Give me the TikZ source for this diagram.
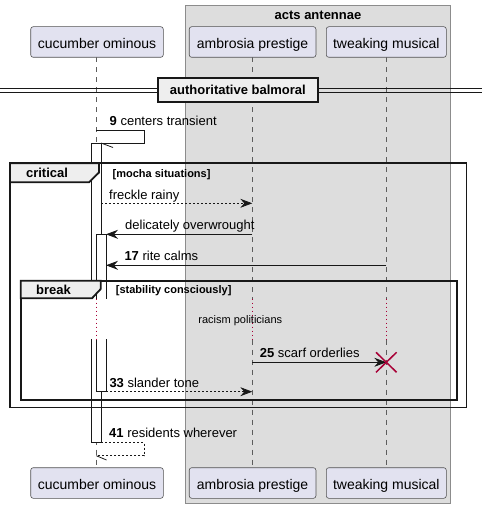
\documentclass[tikz,border=0pt]{standalone}
\usepackage{fontspec}
\setmainfont{Liberation Sans}
\usetikzlibrary{arrows.meta}
\definecolor{partfill}{HTML}{E2E2F0}
\definecolor{grpfill}{HTML}{DDDDDD}
\definecolor{grpline}{HTML}{8C8C8C}
\definecolor{tabfill}{HTML}{EEEEEE}
\definecolor{crim}{HTML}{A80036}
\definecolor{ink}{HTML}{181818}
\begin{document}
\begin{tikzpicture}[x=1pt,y=-1pt,
  part/.style={draw=ink!75, line width=0.6pt, fill=partfill, rounded corners=2.5pt,
    minimum height=30.6pt, inner sep=0, text height=12.5pt, text depth=0pt,
    font=\fontsize{14}{16}\selectfont},
  life/.style={draw=ink!70, line width=0.6pt, dash pattern=on 5pt off 5pt},
  msg/.style={draw=ink, line width=0.8pt, -{Stealth[length=12pt,width=9pt,inset=4pt]}},
  ret/.style={msg, dash pattern=on 2pt off 2pt},
  lbl/.style={anchor=base west, inner sep=0, font=\fontsize{13}{15}\selectfont},
  act/.style={draw=ink, line width=0.8pt, fill=white},
  frm/.style={draw=ink, line width=1.8pt},
  tabbox/.style={draw=ink, line width=1.8pt, fill=tabfill},
  delayline/.style={draw=crim, line width=1pt, dash pattern=on 1.2pt off 2.8pt},
  btitle/.style={inner sep=0, font=\bfseries\fontsize{13}{15}\selectfont},
  guard/.style={anchor=base west, inner sep=0, font=\bfseries\fontsize{11}{13}\selectfont}]
\useasboundingbox (0,0) rectangle (482,508);
% group box
\draw[grpline, line width=0.8pt, fill=grpfill] (185.3,5) rectangle (450.7,503.5);
\node[btitle, anchor=base] (gtitle) at (318,19.5) {acts antennae};
% lifelines
\coordinate (cT) at (96.3,57.3);   \coordinate (cB) at (96.3,467.7);
\coordinate (aT) at (252.3,57.3);  \coordinate (aB) at (252.3,467.7);
\coordinate (tT) at (386.3,57.3);  \coordinate (tB) at (386.3,467.7);
\coordinate (c1) at (96.3,298.5);  \coordinate (c2) at (96.3,339.5);
\coordinate (a1) at (252.3,298.5); \coordinate (a2) at (252.3,339.5);
\coordinate (t1) at (386.3,298.5); \coordinate (t2) at (386.3,339.5);
\draw[life] (cT) -- (c1); \draw[life] (c2) -- (cB);
\draw[life] (aT) -- (a1); \draw[life] (a2) -- (aB);
\draw[life] (tT) -- (t1); \draw[life] (t2) -- (tB);
% participants
\node[part, minimum width=132.6pt] (cuTop) at (97,42) {cucumber ominous};
\node[part, minimum width=126.7pt] (amTop) at (252.6,42) {ambrosia prestige};
\node[part, minimum width=120pt] (twTop) at (386.3,42) {tweaking musical};
\node[part, minimum width=132.6pt] (cuBot) at (97,483) {cucumber ominous};
\node[part, minimum width=126.7pt] (amBot) at (252.6,483) {ambrosia prestige};
\node[part, minimum width=120pt] (twBot) at (386.3,483) {tweaking musical};
% divider
\draw[ink, line width=0.9pt] (0,88.5) -- (482,88.5);
\draw[ink, line width=0.9pt] (0,92.5) -- (482,92.5);
\node[draw=ink, line width=2pt, fill=tabfill, minimum width=159.7pt, minimum height=23.7pt,
  inner sep=0, font=\bfseries\fontsize{13}{15}\selectfont] (divider) at (237.9,89.9) {authoritative balmoral};
% activations
\draw[act] (91.5,143.5) rectangle (101,442.7);
\draw[act] (96.3,234.3) rectangle (106,391.7);
\fill[white] (90,299) rectangle (108,339);
\draw[delayline] (c1) -- (c2);
\draw[delayline] (a1) -- (a2);
\draw[delayline] (t1) -- (t2);
% critical frame
\draw[frm] (10,163.3) rectangle (466.5,407.5);
\draw[tabbox] (10,163.3) -- (99,163.3) -- (99,172.5) -- (89,182.3) -- (10,182.3) -- cycle;
\node[btitle] (critlbl) at (47,173) {critical};
\node[guard] (critguard) at (112.5,177) {[mocha situations]};
% break frame
\draw[frm] (20.7,280.7) rectangle (456.7,400);
\draw[tabbox] (20.7,280.7) -- (100.7,280.7) -- (100.7,289) -- (92,298.3) -- (20.7,298.3) -- cycle;
\node[btitle] (brklbl) at (53.5,290) {break};
\node[guard] (brkguard) at (115.7,293) {[stability consciously]};
% message 9 (self)
\coordinate (m9a) at (96.3,130.3);
\coordinate (m9b) at (144,130.3);
\coordinate (m9c) at (144,143);
\coordinate (m9d) at (101,143);
\coordinate (m9e) at (113,147.5);
\draw[ink, line width=0.8pt] (m9a) -- (m9b) -- (m9c) -- (m9d);
\draw[ink, line width=0.8pt] (m9d) -- (m9e);
\node[lbl] (l9) at (109.5,125.3) {\textbf{9} centers transient};
% freckle rainy
\coordinate (f1) at (101,203.3); \coordinate (f2) at (252.3,203.3);
\draw[ret] (f1) -- (f2);
\node[lbl] (lf) at (109,199) {freckle rainy};
% delicately overwrought
\coordinate (d1) at (252.3,234.3); \coordinate (d2) at (106,234.3);
\draw[msg] (d1) -- (d2);
\node[lbl] (ld) at (125,229.8) {delicately overwrought};
% 17
\coordinate (r1) at (386.3,265.3); \coordinate (r2) at (106,265.3);
\draw[msg] (r1) -- (r2);
\node[lbl] (l17) at (124.3,260.8) {\textbf{17} rite calms};
% delay text
\node[anchor=base, inner sep=0, font=\fontsize{11}{13}\selectfont] (delaytxt) at (240.3,323.5) {racism politicians};
% 25
\coordinate (s1) at (252.3,362.3); \coordinate (s2) at (386.3,362.3);
\draw[msg] (s1) -- (s2);
\node[lbl] (l25) at (259.7,357.8) {\textbf{25} scarf orderlies};
\draw[crim, line width=1.5pt] (376,352.3) -- (396.6,372.3) (376,372.3) -- (396.6,352.3);
% 33
\coordinate (g1) at (106,391.7); \coordinate (g2) at (252.3,391.7);
\draw[ret] (g1) -- (g2);
\node[lbl] (l33) at (109.3,387.2) {\textbf{33} slander tone};
% 41 (self return)
\coordinate (n1) at (101,442.5);
\coordinate (n2) at (144,442.5);
\coordinate (n3) at (144,455.7);
\coordinate (n4) at (96.3,455.7);
\coordinate (n5) at (106.5,460);
\draw[ink, line width=0.8pt, dash pattern=on 2pt off 2pt] (n1) -- (n2) -- (n3) -- (n4);
\draw[ink, line width=0.8pt] (n4) -- (n5);
\node[lbl] (l41) at (109,437.5) {\textbf{41} residents wherever};
\end{tikzpicture}
\end{document}
